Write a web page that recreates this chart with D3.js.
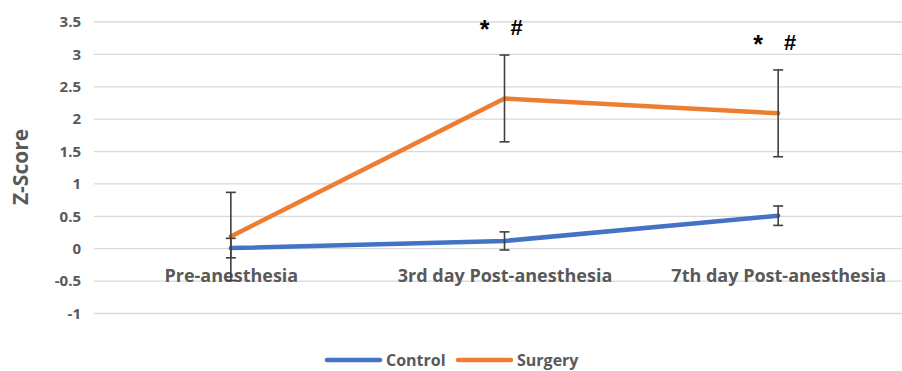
<!DOCTYPE html>
<html>
<head>
<meta charset="utf-8">
<script src="https://cdn.jsdelivr.net/npm/d3@7"></script>
<style>
  html, body { margin: 0; padding: 0; background: #fff; }
  svg { display: block; }
  text { font-family: "Open Sans", sans-serif; font-weight: bold; }
</style>
</head>
<body>
<svg id="chart" width="902" height="371"></svg>
<script>
// Time points and Z-score means / error half-widths per group
const categories = ["Pre-anesthesia", "3rd day Post-anesthesia", "7th day Post-anesthesia"];
const controlMean = [0.01, 0.12, 0.51];
const controlErr  = [0.15, 0.14, 0.15];
const surgeryMean = [0.19, 2.32, 2.09];
const surgeryErr  = [0.68, 0.67, 0.67];
const yTicks = [-1, -0.5, 0, 0.5, 1, 1.5, 2, 2.5, 3, 3.5];
const markers = [false, true, true];

const series = [
  { name: "Control", color: "#4472C4", mean: controlMean, err: controlErr },
  { name: "Surgery", color: "#ED7D31", mean: surgeryMean, err: surgeryErr }
];

const svg = d3.select("#chart");
const W = 902;

const x = d3.scalePoint().domain(categories).range([94, 915]).padding(0.5);
const y = d3.scaleLinear().domain([-1, 3.5]).range([313.5, 22]);

// Horizontal gridlines
svg.append("g")
  .selectAll("line")
  .data(yTicks)
  .join("line")
  .attr("x1", 94).attr("x2", W)
  .attr("y1", d => y(d)).attr("y2", d => y(d))
  .attr("stroke", "#d9d9d9").attr("stroke-width", 1.3);

// Y axis tick labels
const yAxis = d3.axisLeft(y).tickValues(yTicks).tickSize(0).tickPadding(0)
  .tickFormat(d => String(d));
const gy = svg.append("g").attr("transform", "translate(81,0)").call(yAxis);
gy.select(".domain").remove();
gy.selectAll("text")
  .attr("fill", "#595959")
  .style("font-size", "15px")
  .style("font-family", "'Open Sans', sans-serif")
  .style("font-weight", "bold");

// Y axis title
svg.append("text")
  .attr("transform", "translate(28,167) rotate(-90)")
  .attr("text-anchor", "middle")
  .attr("fill", "#595959")
  .style("font-size", "21px")
  .text("Z-Score");

// Category labels, placed below the zero line like a category axis
const xAxis = d3.axisBottom(x).tickSize(0).tickPadding(0);
const gx = svg.append("g").attr("transform", `translate(0,${y(0) + 33})`).call(xAxis);
gx.select(".domain").remove();
gx.selectAll("text")
  .attr("fill", "#595959")
  .attr("y", 0)
  .attr("dy", 0)
  .style("font-size", "18px")
  .style("font-family", "'Open Sans', sans-serif")
  .style("font-weight", "bold");

// Series lines
const line = d3.line()
  .x((d, i) => x(categories[i]))
  .y(d => y(d));

series.forEach(s => {
  svg.append("path")
    .datum(s.mean)
    .attr("d", line)
    .attr("fill", "none")
    .attr("stroke", s.color)
    .attr("stroke-width", 4.5)
    .attr("stroke-linejoin", "round")
    .attr("stroke-linecap", "round");
});

// Error bars
const cap = 5;
series.forEach(s => {
  const g = svg.append("g");
  s.mean.forEach((m, i) => {
    const cx = x(categories[i]);
    const lo = y(m - s.err[i]), hi = y(m + s.err[i]);
    g.append("line").attr("x1", cx).attr("x2", cx).attr("y1", lo).attr("y2", hi);
    g.append("line").attr("x1", cx - cap).attr("x2", cx + cap).attr("y1", lo).attr("y2", lo);
    g.append("line").attr("x1", cx - cap).attr("x2", cx + cap).attr("y1", hi).attr("y2", hi);
  });
  g.selectAll("line").attr("stroke", "#404040").attr("stroke-width", 1.6);
});

// Significance markers above the surgery error bars
markers.forEach((show, i) => {
  if (!show) return;
  const cx = x(categories[i]);
  const top = y(surgeryMean[i] + surgeryErr[i]);
  svg.append("text").attr("x", cx - 20).attr("y", top - 17)
    .attr("text-anchor", "middle").attr("fill", "#000")
    .style("font-size", "25px").style("font-weight", "bold")
    .style("font-family", "'Liberation Sans', sans-serif")
    .text("*");
  svg.append("text").attr("x", cx + 12).attr("y", top - 20)
    .attr("text-anchor", "middle").attr("fill", "#000")
    .style("font-size", "22px").style("font-weight", "bold")
    .style("font-family", "'Liberation Sans', sans-serif")
    .text("#");
});

// Legend
const legend = svg.append("g").attr("transform", "translate(0,360)");
const legendX = [327, 458];
series.forEach((s, i) => {
  const lx = legendX[i];
  legend.append("line")
    .attr("x1", lx).attr("x2", lx + 53).attr("y1", 0).attr("y2", 0)
    .attr("stroke", s.color).attr("stroke-width", 4.5).attr("stroke-linecap", "round");
  legend.append("text")
    .attr("x", lx + 59).attr("y", 6)
    .attr("fill", "#595959")
    .style("font-size", "16px")
    .text(s.name);
});
</script>
</body>
</html>
